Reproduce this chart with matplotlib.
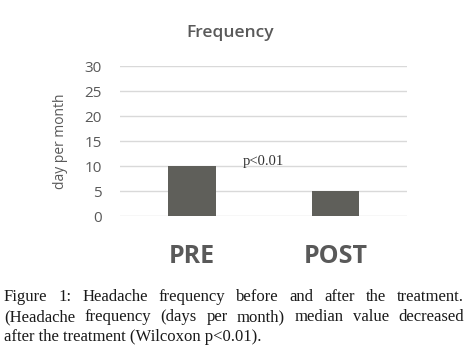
import matplotlib
matplotlib.use("Agg")
import matplotlib.pyplot as plt

# data
categories = ["PRE", "POST"]
values = [10, 5]
yticks = [0, 5, 10, 15, 20, 25, 30]
pvalue_text = "p<0.01"
caption_lines = [
    "Figure 1: Headache frequency before and after the treatment.",
    "(Headache frequency (days per month) median value decreased",
    "after the treatment (Wilcoxon p<0.01).",
]

BAR = "#5f5f5a"
TXT = "#595959"
GRID = "#d9d9d9"
SANS = ["Open Sans", "DejaVu Sans"]
SERIF = ["Liberation Serif", "DejaVu Serif"]

fig = plt.figure(figsize=(4.69, 3.56), dpi=100)
ax = fig.add_axes([0.256, 0.393, 0.612, 0.4216])

x = list(range(len(categories)))
ax.bar(x, values, width=0.33, color=BAR, zorder=3)
ax.set_xlim(-0.5, 1.5)
ax.set_ylim(0, 30)
ax.set_yticks(yticks)
ax.set_yticklabels([str(t) for t in yticks], family=SANS, fontsize=11, color=TXT)
ax.set_xticks(x)
ax.set_xticklabels(categories, family=SANS, fontsize=18, fontweight="bold", color=TXT)
ax.tick_params(axis="y", length=0, pad=13)
ax.tick_params(axis="x", length=0, pad=20)
ax.grid(axis="y", color=GRID, linewidth=1.0, zorder=0)
for s in ax.spines.values():
    s.set_visible(False)

ax.set_ylabel("day per month", family=SANS, fontsize=10, color=TXT, labelpad=12)
fig.text(230 / 469, 1 - 33 / 356, "Frequency", family=SANS, fontsize=12.5,
         fontweight="semibold", color=TXT, ha="center", va="center")
ax.text(0.5, 11, pvalue_text, family=SERIF, fontsize=10.5, color="#333333",
        ha="center", va="center")

# justified caption
fig.canvas.draw()
renderer = fig.canvas.get_renderer()
left_px, right_px = 4, 464
line_y = [297, 317, 337]
fs = 12
for i, line in enumerate(caption_lines):
    yy = 1 - line_y[i] / 356
    words = line.split(" ")
    last = i == len(caption_lines) - 1
    if last:
        fig.text(left_px / 469, yy, line, family=SERIF, fontsize=fs,
                 color="#1a1a1a", ha="left", va="center")
        continue
    widths = []
    for w in words:
        t = fig.text(0, 0, w, family=SERIF, fontsize=fs)
        widths.append(t.get_window_extent(renderer).width)
        t.remove()
    gap = (right_px - left_px - sum(widths)) / (len(words) - 1)
    cur = left_px
    for w, wd in zip(words, widths):
        fig.text(cur / 469, yy, w, family=SERIF, fontsize=fs,
                 color="#1a1a1a", ha="left", va="center")
        cur += wd + gap

fig.savefig("out.png", dpi=100)
